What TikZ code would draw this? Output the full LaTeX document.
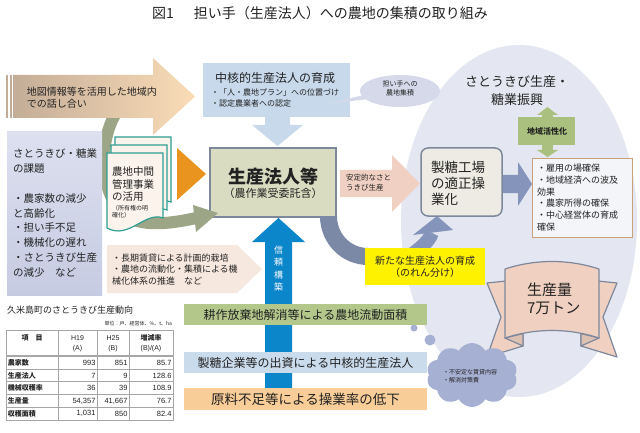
\documentclass[tikz,border=0pt]{standalone}
\usepackage{fontspec}
\setmainfont{Noto Sans CJK JP}
\newfontfamily\numf{Liberation Sans}
\usetikzlibrary{shapes.callouts,shapes.symbols}
\newcommand\fsz[2]{\fontsize{#1}{#2}\selectfont}
\definecolor{tanL}{HTML}{C4AD98}
\definecolor{tanR}{HTML}{FADCB6}
\definecolor{blueBox}{HTML}{C8D9EB}
\definecolor{lavA}{HTML}{DDE0EF}
\definecolor{lavB}{HTML}{C6CBE2}
\definecolor{docFill}{HTML}{FCF3EC}
\definecolor{tealC}{HTML}{2E9E93}
\definecolor{orangeT}{HTML}{E8941E}
\definecolor{ggreen}{HTML}{9CA585}
\definecolor{olive}{HTML}{D9DCC1}
\definecolor{boxEdge}{HTML}{7D889C}
\definecolor{peach}{HTML}{EFD0C2}
\definecolor{slate}{HTML}{7C89A6}
\definecolor{slateL}{HTML}{8494BA}
\definecolor{yel}{HTML}{FFF200}
\definecolor{factoryC}{HTML}{EDEBE3}
\definecolor{listEdge}{HTML}{C9A27A}
\definecolor{lgreen}{HTML}{AAC07F}
\definecolor{ribbonC}{HTML}{F0D0C0}
\definecolor{ribbonD}{HTML}{DCC0B2}
\definecolor{cloudC}{HTML}{A6B0D3}
\definecolor{ellBig}{HTML}{E4E7F1}
\definecolor{ellSm}{HTML}{D5D9EA}
\definecolor{blueArr}{HTML}{0B86CB}
\definecolor{peachL}{HTML}{F7E8DF}
\definecolor{blueBar}{HTML}{CADBEC}
\definecolor{orangeBar}{HTML}{F9CD98}
\definecolor{greenBar}{HTML}{B3C78B}
\definecolor{txt}{HTML}{222222}
\begin{document}
\begin{tikzpicture}[x=1pt,y=-1pt,
  every node/.style={inner sep=0pt,outer sep=0pt,text=txt},
  docsheet/.style={fill=docFill,draw=tealC,line width=1.2pt},
  ribbonpart/.style={fill=ribbonC,draw=boxEdge,line width=1.2pt,line join=round},
  tline/.style={anchor=west,align=left}]
\useasboundingbox (0,0) rectangle (640,433);
\fill[white] (0,0) rectangle (640,433);

% title
\node[font=\fsz{14}{16}] (title) at (320,13) {図1\hspace{20pt}担い手（生産法人）への農地の集積の取り組み};

% big ellipse
\fill[ellBig] (519,221) ellipse [x radius=118pt, y radius=176pt];

% grey-green curved arrow band
\draw[ggreen,line width=12pt] (118,110) .. controls (100,135) and (96,190) .. (125,215) .. controls (140,227) and (170,224) .. (196,218);

% top-left arrow
\shade[left color=tanL,right color=tanR] (13,75) -- (153,75) -- (153,58) -- (195,96.5) -- (153,135) -- (153,118) -- (13,118) -- cycle;
\fill[tanL] (6,75) rectangle (8,118);
\fill[tanL] (9.5,75) rectangle (12,118);
\node[tline,font=\fsz{10}{11.7}] (talk) at (27,97.5) {地図情報等を活用した地域内\\での話し合い};

% left box
\shade[top color=lavA,bottom color=lavB] (7,132) rectangle (102,295);
\node[tline,font=\fsz{10.5}{14.8}] (issues) at (13,213.2) {さとうきび・糖業\\の課題\\[14.8pt]・農家数の減少\\と高齢化\\・担い手不足\\・機械化の遅れ\\・さとうきび生産\\の減少\hspace{1em}など};

% document stack
\draw[docsheet] (115,137) -- (171,137) -- (171,202) .. controls (153,195) and (137,224) .. (115,212) -- cycle;
\draw[docsheet] (111,145) -- (167,145) -- (167,210) .. controls (149,203) and (133,232) .. (111,220) -- cycle;
\draw[docsheet] (107,153) -- (163,153) -- (163,218) .. controls (145,211) and (129,240) .. (107,228) -- cycle;
\node[tline,font=\fsz{10.5}{12.5}] (docmain) at (112,184.5) {農地中間\\管理事業\\の活用};
\node[tline,font=\fsz{6}{7}] (docsmall) at (112,211.5) {（所有権の明\\確化）};

% orange triangle
\fill[orangeT] (177,148) -- (206,174) -- (177,200) -- cycle;

% top blue box and down arrow
\fill[blueBox] (203,63) rectangle (350,117);
\fill[blueBox] (265,116) -- (290,116) -- (290,125) -- (303,125) -- (277.5,146) -- (252,125) -- (265,125) -- cycle;
\node[font=\fsz{12}{14}] (coretitle) at (275,78) {中核的生産法人の育成};
\node[tline,font=\fsz{8}{11}] (coreitems) at (211,97.5) {・「人・農地プラン」への位置づけ\\・認定農業者への認定};

% callout bubble
\node[ellipse callout,fill=ellSm,minimum width=80pt,minimum height=32pt,callout absolute pointer={(327,104)}] (bubble) at (400,91) {};
\node[align=center,font=\fsz{7}{9}] (bubbletxt) at (400,88.5) {担い手への\\農地集積};

% central box
\node[draw=boxEdge,fill=olive,line width=1.5pt,minimum width=126pt,minimum height=69pt] (corp) at (273,182.5) {};
\node[font=\bfseries\fsz{18}{20}] (corpname) at (273,176.5) {生産法人等};
\node[font=\fsz{11}{13}] (corpsub) at (273,193.3) {（農作業受委託含）};

% grey-green arrow head
\fill[ggreen] (193,205) -- (218,213) -- (196,232) -- cycle;

% peach arrow right
\fill[peach] (340,170) -- (392,170) -- (392,155) -- (420,183.5) -- (392,212) -- (392,197) -- (340,197) -- cycle;
\node[tline,font=\fsz{7.5}{10}] (stable) at (346,183) {安定的なさと\\うきび生産};

% slate quarter band
\fill[slate] (320,216) .. controls (320,243.5) and (341.5,265) .. (368,265) -- (372,265) -- (372,248) -- (368,248) .. controls (350.9,248) and (337,234.1) .. (337,216) -- cycle;

% slate up arrow
\draw[slateL,line width=14pt] (402,262) .. controls (415,252) and (428,244) .. (432,233);
\fill[slateL] (413,235) -- (437,216) -- (453,230) -- cycle;

% yellow box
\node[fill=yel,minimum width=120pt,minimum height=37pt] (newcorp) at (425,266.5) {};
\node[align=center,font=\fsz{10}{12}] (newcorptxt) at (425,266.5) {新たな生産法人の育成\\（のれん分け）};

% ellipse title
\node[align=center,font=\fsz{13}{18}] (goal) at (517,91) {さとうきび生産・\\糖業振興};

% green double arrow
\fill[lgreen] (518,117) rectangle (575,145);
\fill[lgreen] (542,114) rectangle (553,118);
\fill[lgreen] (537,115) -- (547.5,107) -- (558,115) -- cycle;
\fill[lgreen] (542,144) rectangle (553,151);
\fill[lgreen] (537,150) -- (547.5,157) -- (558,150) -- cycle;
\node[font=\bfseries\fsz{8}{10}] (revital) at (547,131) {地域活性化};

% factory box
\node[draw=boxEdge,fill=factoryC,line width=1.5pt,rounded corners=7pt,minimum width=81pt,minimum height=68pt] (factory) at (461.5,182) {};
\node[tline,font=\fsz{13.5}{16}] (factorytxt) at (431,183) {製糖工場\\の適正操\\業化};

% slate right arrow
\fill[slateL] (503,175) -- (518,175) -- (518,162) -- (532,184) -- (518,206) -- (518,193) -- (503,193) -- cycle;

% effects list box
\node[draw=listEdge,fill=white!60!ellBig,line width=1pt,minimum width=100pt,minimum height=78pt] (effects) at (582,198) {};
\node[tline,font=\fsz{9}{11.8}] (effectstxt) at (537,197.5) {・雇用の場確保\\・地域経済への波及\\効果\\・農家所得の確保\\・中心経営体の育成\\確保};

% ribbon
\draw[ribbonpart] (506,281) -- (487,283) -- (501,317) -- (487,357) -- (523,346) -- (523,320) -- cycle;
\draw[ribbonpart] (598,281) -- (617,283) -- (603,317) -- (617,357) -- (581,346) -- (581,320) -- cycle;
\draw[ribbonpart,fill=ribbonD] (505,338) -- (523,333.5) -- (523,346) -- cycle;
\draw[ribbonpart,fill=ribbonD] (599,338) -- (581,333.5) -- (581,346) -- cycle;
\draw[ribbonpart] (505,269) .. controls (535,259) and (569,259) .. (599,269) -- (599,338) .. controls (569,328) and (535,328) .. (505,338) -- cycle;
\node[tline,font=\fsz{15}{18}] (output) at (527,299) {生産量\\7万トン};

% cloud
\fill[cloudC] (414,328) circle (3.5pt);
\fill[cloudC] (430,340) circle (5.5pt);
\node[cloud,cloud puffs=10,cloud puff arc=120,aspect=1.4,fill=cloudC,minimum width=91pt,minimum height=64pt] (cloudn) at (472,375) {};
\node[tline,font=\fsz{6}{8}] (cloudtxt) at (443,376) {・不安定な賃貸内容\\・解消対策費};

% blue vertical arrow
\fill[blueArr] (265,392) -- (265,242) -- (252,242) -- (278.5,218) -- (305,242) -- (292,242) -- (292,392) -- cycle;
\node[align=center,text=white,font=\fsz{9}{12.5}] (trust) at (278.5,268.8) {信\\頼\\構\\築};

% bars
\node[fill=greenBar,minimum width=243pt,minimum height=21pt,font=\fsz{12}{14}] (bar1) at (305.5,314.5) {耕作放棄地解消等による農地流動面積};
\node[fill=blueBar,minimum width=243pt,minimum height=21pt,font=\fsz{12}{14}] (bar2) at (305.5,362.5) {製糖企業等の出資による中核的生産法人};
\node[fill=orangeBar,minimum width=243pt,minimum height=22pt,font=\fsz{13.5}{15}] (bar3) at (305.5,399) {原料不足等による操業率の低下};

% peach pentagon
\fill[peachL] (107,245) -- (237,245) -- (262,269) -- (237,293) -- (107,293) -- cycle;
\node[tline,font=\fsz{9}{11.5}] (lease) at (112,269.5) {・長期賃貸による計画的栽培\\・農地の流動化・集積による機\\械化体系の推進\hspace{1em}など};

% table
\node[anchor=west,font=\fsz{9}{10}] (tabtitle) at (7,310) {久米島町のさとうきび生産動向};
\node[anchor=east,font=\fsz{5}{6}] (tabunit) at (172,324) {単位：戸、経営体、\%、t、ha};
\draw[gray!70,line width=0.5pt] (6,330) rectangle (173,420);
\foreach \xx in {58,97,129} \draw[gray!70,line width=0.5pt] (\xx,330) -- (\xx,420);
\draw[gray!70,line width=0.5pt] (6,355) -- (173,355);
\foreach \yy in {356.5,368.8,381.6,394.4,407.2} \draw[gray!70,line width=0.5pt] (6,\yy) -- (173,\yy);
\node[font=\bfseries\fsz{7}{8}] (h0) at (32,338) {項\hspace{1em}目};
\node[font=\numf\fsz{7}{8}] (h1) at (77.5,338) {H19};
\node[font=\numf\fsz{7}{8}] (h1b) at (77.5,348.5) {(A)};
\node[font=\numf\fsz{7}{8}] (h2) at (113,338) {H25};
\node[font=\numf\fsz{7}{8}] (h2b) at (113,348.5) {(B)};
\node[font=\bfseries\fsz{7}{8}] (h3) at (151,338) {増減率};
\node[font=\numf\fsz{7}{8}] (h3b) at (151,348.5) {(B)/(A)};
\foreach \lab/\va/\vb/\vc [count=\i] in {農家数/993/851/85.7,生産法人/7/9/128.6,機械収穫率/36/39/108.9,生産量/{54,357}/{41,667}/76.7,収穫面積/{1,031}/850/82.4}{
  \pgfmathsetmacro\ry{356.5+(\i-0.5)*12.7}
  \node[anchor=west,font=\bfseries\fsz{7}{8}] (lab\i) at (8,\ry) {\lab};
  \node[anchor=east,font=\numf\fsz{7.5}{8}] (va\i) at (95.5,\ry) {\va};
  \node[anchor=east,font=\numf\fsz{7.5}{8}] (vb\i) at (127.5,\ry) {\vb};
  \node[anchor=east,font=\numf\fsz{7.5}{8}] (vc\i) at (171.5,\ry) {\vc};
}
\end{tikzpicture}
\end{document}
